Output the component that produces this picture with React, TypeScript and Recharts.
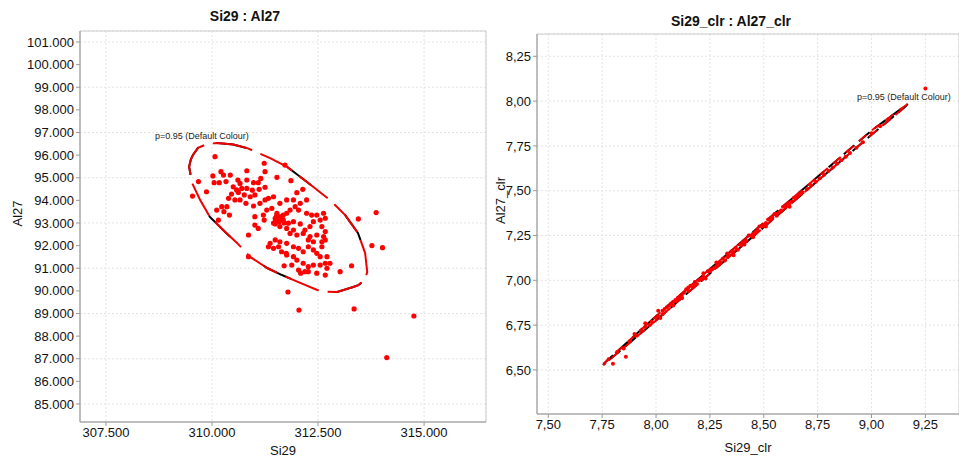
import {
  CartesianGrid,
  ReferenceArea,
  Scatter,
  ScatterChart,
  XAxis,
  YAxis,
} from "recharts";

// left panel: raw Si29 vs Al27
const rawPoints: [number, number][] = [
  [310.07, 95.93], [311.23, 95.64], [311.72, 95.56], [310.82, 95.31], [311.25, 95.27],
  [310.21, 95.27], [310.02, 95.08], [310.27, 95.12], [310.43, 95.12], [309.68, 94.83],
  [309.54, 94.19], [309.87, 94.38], [310.05, 94.78], [310.17, 94.78], [310.33, 94.83],
  [310.61, 94.9], [310.66, 94.75], [310.82, 94.9], [310.98, 94.78], [311.09, 94.78],
  [311.15, 94.97], [311.53, 95.02], [311.86, 94.87], [312.14, 94.49], [312.0, 94.34],
  [311.25, 94.58], [311.11, 94.49], [310.82, 94.53], [310.7, 94.53], [310.58, 94.46],
  [310.76, 94.24], [310.9, 94.16], [311.01, 94.24], [310.46, 94.28], [310.39, 94.09],
  [310.54, 94.02], [310.66, 94.02], [310.8, 93.87], [310.98, 93.75], [311.13, 93.87],
  [311.25, 94.02], [311.33, 94.09], [311.45, 94.16], [311.6, 93.87], [311.76, 94.02],
  [311.92, 94.02], [312.08, 93.87], [312.23, 94.02], [310.11, 93.57], [310.23, 93.72],
  [310.35, 93.72], [310.28, 93.5], [310.41, 93.35], [310.15, 93.13], [311.01, 93.28],
  [311.21, 93.35], [311.29, 93.57], [311.41, 93.65], [311.53, 93.43], [311.49, 93.21],
  [311.6, 93.28], [311.68, 93.35], [311.76, 93.43], [311.84, 93.57], [311.96, 93.72],
  [312.04, 93.57], [312.23, 93.43], [312.35, 93.35], [312.47, 93.35], [312.63, 93.43],
  [312.67, 93.21], [312.55, 93.13], [312.39, 93.06], [312.31, 92.84], [312.19, 92.69],
  [312.08, 92.96], [311.92, 93.06], [311.8, 92.99], [311.68, 93.13], [311.57, 93.06],
  [311.49, 92.96], [311.6, 92.84], [311.76, 92.76], [311.92, 92.69], [311.84, 92.54],
  [312.0, 92.47], [312.15, 92.54], [312.31, 92.4], [312.47, 92.47], [312.63, 92.4],
  [312.67, 92.25], [312.59, 91.95], [312.39, 91.81], [312.27, 91.95], [312.15, 91.73],
  [312.04, 91.88], [311.92, 91.95], [311.76, 92.1], [311.6, 92.17], [311.49, 92.25],
  [311.37, 92.1], [311.33, 91.95], [311.45, 91.88], [311.57, 91.95], [311.64, 91.73],
  [311.76, 91.59], [311.92, 91.51], [312.0, 91.36], [311.88, 91.14], [312.04, 90.92],
  [312.19, 90.85], [312.27, 91.07], [312.15, 91.22], [312.39, 91.14], [312.55, 91.14],
  [312.67, 91.22], [312.78, 91.22], [312.71, 91.0], [312.47, 90.78], [312.27, 90.85],
  [313.02, 90.85], [313.29, 91.11], [310.86, 92.47], [311.01, 92.91], [311.23, 93.13],
  [311.09, 92.76], [310.86, 91.51], [311.7, 91.11], [311.79, 89.95], [313.45, 93.18],
  [313.87, 93.46], [313.77, 92.0], [314.02, 91.91], [312.67, 90.7], [312.47, 91.66],
  [312.55, 91.51], [312.71, 91.51], [312.59, 92.84], [312.67, 92.62], [312.09, 90.78],
  [311.75, 91.66], [312.39, 92.17], [312.27, 92.25], [312.59, 92.17], [314.12, 87.05],
  [314.76, 88.89], [313.35, 89.2], [312.05, 89.15], [311.55, 93.25], [311.62, 93.18],
  [311.5, 93.1], [311.58, 93.05], [311.65, 93.22], [311.52, 93.3], [311.7, 93.0],
  [311.45, 93.0], [310.5, 94.6], [310.62, 94.35], [310.95, 94.45],
];

// p=0.95 ellipse outline
const rawEllipse: [number, number][] = [
  [310.12, 96.54], [310.5, 96.47], [310.83, 96.31], [311.37, 95.87], [311.77, 95.48],
  [312.24, 94.81], [312.78, 94.02], [313.14, 93.35], [313.44, 92.56], [313.61, 91.67],
  [313.66, 90.83], [313.6, 90.5], [313.45, 90.25], [313.33, 90.17], [312.95, 89.95],
  [312.7, 89.96], [312.48, 90.04], [312.08, 90.35], [311.65, 90.7], [311.3, 91.01],
  [310.9, 91.5], [310.59, 92.12], [310.31, 92.6], [309.95, 93.27], [309.72, 94.02],
  [309.53, 94.77], [309.46, 95.48], [309.5, 95.8], [309.55, 96.01], [309.67, 96.32],
  [309.88, 96.49], [310.12, 96.54],
];

const rawXTicks = [307.5, 310, 312.5, 315];
const rawYTicks = [85, 86, 87, 88, 89, 90, 91, 92, 93, 94, 95, 96, 97, 98, 99, 100, 101];

// right panel: clr transformed
const clrPoints: [number, number][] = [
  [7.78, 6.56], [7.8, 6.535], [7.82, 6.6], [7.85, 6.62], [7.86, 6.573], [7.88, 6.66],
  [7.91, 6.69], [7.93, 6.72], [7.95, 6.74], [7.97, 6.75], [7.98, 6.77], [8.0, 6.79],
  [8.01, 6.8], [8.02, 6.79], [8.03, 6.83], [8.04, 6.84], [8.05, 6.85], [8.06, 6.86],
  [8.07, 6.87], [8.08, 6.88], [8.09, 6.89], [8.1, 6.9], [8.11, 6.91], [8.12, 6.92],
  [8.12, 6.9], [8.13, 6.93], [8.14, 6.95], [8.15, 6.94], [8.15, 6.96], [8.16, 6.97],
  [8.17, 6.96], [8.18, 6.99], [8.19, 6.98], [8.2, 7.0], [8.21, 7.01], [8.22, 7.02],
  [8.23, 7.01], [8.24, 7.05], [8.25, 7.05], [8.26, 7.06], [8.27, 7.07], [8.28, 7.08],
  [8.29, 7.09], [8.3, 7.1], [8.31, 7.12], [8.32, 7.11], [8.33, 7.13], [8.34, 7.14],
  [8.35, 7.16], [8.36, 7.16], [8.37, 7.18], [8.38, 7.17], [8.39, 7.2], [8.4, 7.21],
  [8.41, 7.22], [8.42, 7.22], [8.43, 7.25], [8.44, 7.25], [8.45, 7.26], [8.46, 7.27],
  [8.47, 7.28], [8.48, 7.3], [8.49, 7.3], [8.5, 7.31], [8.51, 7.32], [8.52, 7.34],
  [8.53, 7.34], [8.54, 7.35], [8.55, 7.37], [8.56, 7.37], [8.57, 7.38], [8.58, 7.39],
  [8.59, 7.41], [8.6, 7.41], [8.61, 7.42], [8.62, 7.43], [8.63, 7.44], [8.64, 7.46],
  [8.65, 7.46], [8.66, 7.47], [8.67, 7.48], [8.68, 7.49], [8.7, 7.51], [8.72, 7.53],
  [8.74, 7.55], [8.76, 7.57], [8.78, 7.59], [8.8, 7.61], [8.82, 7.63], [8.84, 7.65],
  [8.86, 7.67], [8.88, 7.69], [8.9, 7.71], [8.93, 7.74], [8.96, 7.77], [9.0, 7.82],
  [9.04, 7.86], [9.08, 7.9], [9.25, 8.07], [8.18, 6.97], [8.22, 7.04], [8.28, 7.1],
  [8.33, 7.15], [8.36, 7.14], [8.41, 7.2], [8.45, 7.24], [8.51, 7.3], [8.56, 7.36],
  [8.62, 7.41], [8.03, 6.81], [8.08, 6.86], [7.95, 6.76], [7.9, 6.7], [8.01, 6.83],
];

const clrEllipse: [number, number][] = [
  [7.755, 6.527], [7.76, 6.538], [8.0, 6.8], [8.25, 7.063], [8.5, 7.321], [8.75, 7.578],
  [9.0, 7.836], [9.168, 7.984], [9.16, 7.972], [9.0, 7.812], [8.75, 7.555], [8.5, 7.296],
  [8.25, 7.038], [8.0, 6.776], [7.755, 6.527],
];

const clrXTicks = [7.5, 7.75, 8.0, 8.25, 8.5, 8.75, 9.0, 9.25];
const clrYTicks = [6.5, 6.75, 7.0, 7.25, 7.5, 7.75, 8.0, 8.25];

const toXY = (arr: [number, number][]) => arr.map(([x, y]) => ({ x, y }));

const FONT = "'Liberation Sans', Arial, sans-serif";
const tickStyle = { fontSize: 13, fill: "#111", fontFamily: FONT };
const labelStyle = { fontSize: 13, fill: "#111", fontFamily: FONT };
const axisStroke = "#999";

const dot = (r: number) => (p: any) => <circle cx={p.cx} cy={p.cy} r={r} fill="#f00" />;
const noDot = () => <g />;

export default function App() {
  return (
    <div style={{ position: "absolute", left: 0, top: 0, width: 959, height: 459, background: "#fff", fontFamily: FONT }}>
      <div style={{ position: "absolute", left: 0, top: 0 }}>
        <ScatterChart width={490} height={459} margin={{ top: 31, right: 4, left: 0, bottom: 0 }}>
          <CartesianGrid stroke="#e4e4e4" strokeDasharray="2 2" />
          <XAxis
            type="number"
            dataKey="x"
            domain={[306.887, 316.46]}
            ticks={rawXTicks}
            tickFormatter={(v: number) => v.toFixed(3)}
            height={37}
            tick={tickStyle}
            tickSize={4}
            stroke={axisStroke}
            allowDataOverflow
            label={{ value: "Si29", position: "insideBottom", offset: 4, style: labelStyle }}
          />
          <YAxis
            type="number"
            dataKey="y"
            domain={[84.204, 101.486]}
            ticks={rawYTicks}
            tickFormatter={(v: number) => v.toFixed(3)}
            width={80}
            tick={tickStyle}
            tickSize={4}
            stroke={axisStroke}
            allowDataOverflow
            label={{ value: "Al27", angle: -90, position: "insideLeft", offset: 17, style: labelStyle }}
          />
          <ReferenceArea x1={306.887} x2={316.46} y1={84.204} y2={101.486} fill="none" stroke="#ccc" />
          <Scatter
            data={toXY(rawEllipse)}
            line={{ stroke: "#000", strokeWidth: 2, strokeDasharray: "30 45" }}
            lineType="joint"
            shape={noDot}
            isAnimationActive={false}
          />
          <Scatter
            data={toXY(rawEllipse)}
            line={{ stroke: "#e00", strokeWidth: 2, strokeDasharray: "36 9" }}
            lineType="joint"
            shape={noDot}
            isAnimationActive={false}
          />
          <Scatter data={toXY(rawPoints)} shape={dot(2.6)} isAnimationActive={false} />
        </ScatterChart>
      </div>
      <div style={{ position: "absolute", left: 480, top: 0 }}>
        <ScatterChart width={479} height={459} margin={{ top: 34, right: 0, left: 0, bottom: 0 }}>
          <CartesianGrid stroke="#e4e4e4" strokeDasharray="2 2" />
          <XAxis
            type="number"
            dataKey="x"
            domain={[7.4476, 9.406]}
            ticks={clrXTicks}
            tickFormatter={(v: number) => v.toFixed(2).replace(".", ",")}
            height={45}
            tick={tickStyle}
            tickSize={4}
            stroke={axisStroke}
            allowDataOverflow
            label={{ value: "Si29_clr", position: "insideBottom", offset: 7, style: labelStyle }}
          />
          <YAxis
            type="number"
            dataKey="y"
            domain={[6.254, 8.3744]}
            ticks={clrYTicks}
            tickFormatter={(v: number) => v.toFixed(2).replace(".", ",")}
            width={57}
            tick={tickStyle}
            tickSize={4}
            stroke={axisStroke}
            allowDataOverflow
            label={{ value: "Al27_clr", angle: -90, position: "insideLeft", offset: 20, style: labelStyle }}
          />
          <ReferenceArea x1={7.4476} x2={9.406} y1={6.254} y2={8.3744} fill="none" stroke="#ccc" />
          <Scatter
            data={toXY(clrEllipse)}
            line={{ stroke: "#000", strokeWidth: 2, strokeDasharray: "14 6" }}
            lineType="joint"
            shape={noDot}
            isAnimationActive={false}
          />
          <Scatter data={toXY(clrPoints)} shape={dot(2)} isAnimationActive={false} />
          <Scatter
            data={toXY(clrEllipse)}
            line={{ stroke: "#e00", strokeWidth: 2, strokeDasharray: "10 7" }}
            lineType="joint"
            shape={noDot}
            isAnimationActive={false}
          />
        </ScatterChart>
      </div>
      <div style={{ position: "absolute", left: 0, width: 490, top: 8, textAlign: "center", fontWeight: "bold", fontSize: 14, color: "#111" }}>
        Si29 : Al27
      </div>
      <div style={{ position: "absolute", left: 536, width: 390, top: 13, textAlign: "center", fontWeight: "bold", fontSize: 14, color: "#111" }}>
        Si29_clr : Al27_clr
      </div>
      <div style={{ position: "absolute", left: 155, top: 131, fontSize: 9, color: "#222" }}>p=0.95 (Default Colour)</div>
      <div style={{ position: "absolute", left: 857, top: 92, fontSize: 9, color: "#222" }}>p=0.95 (Default Colour)</div>
    </div>
  );
}
